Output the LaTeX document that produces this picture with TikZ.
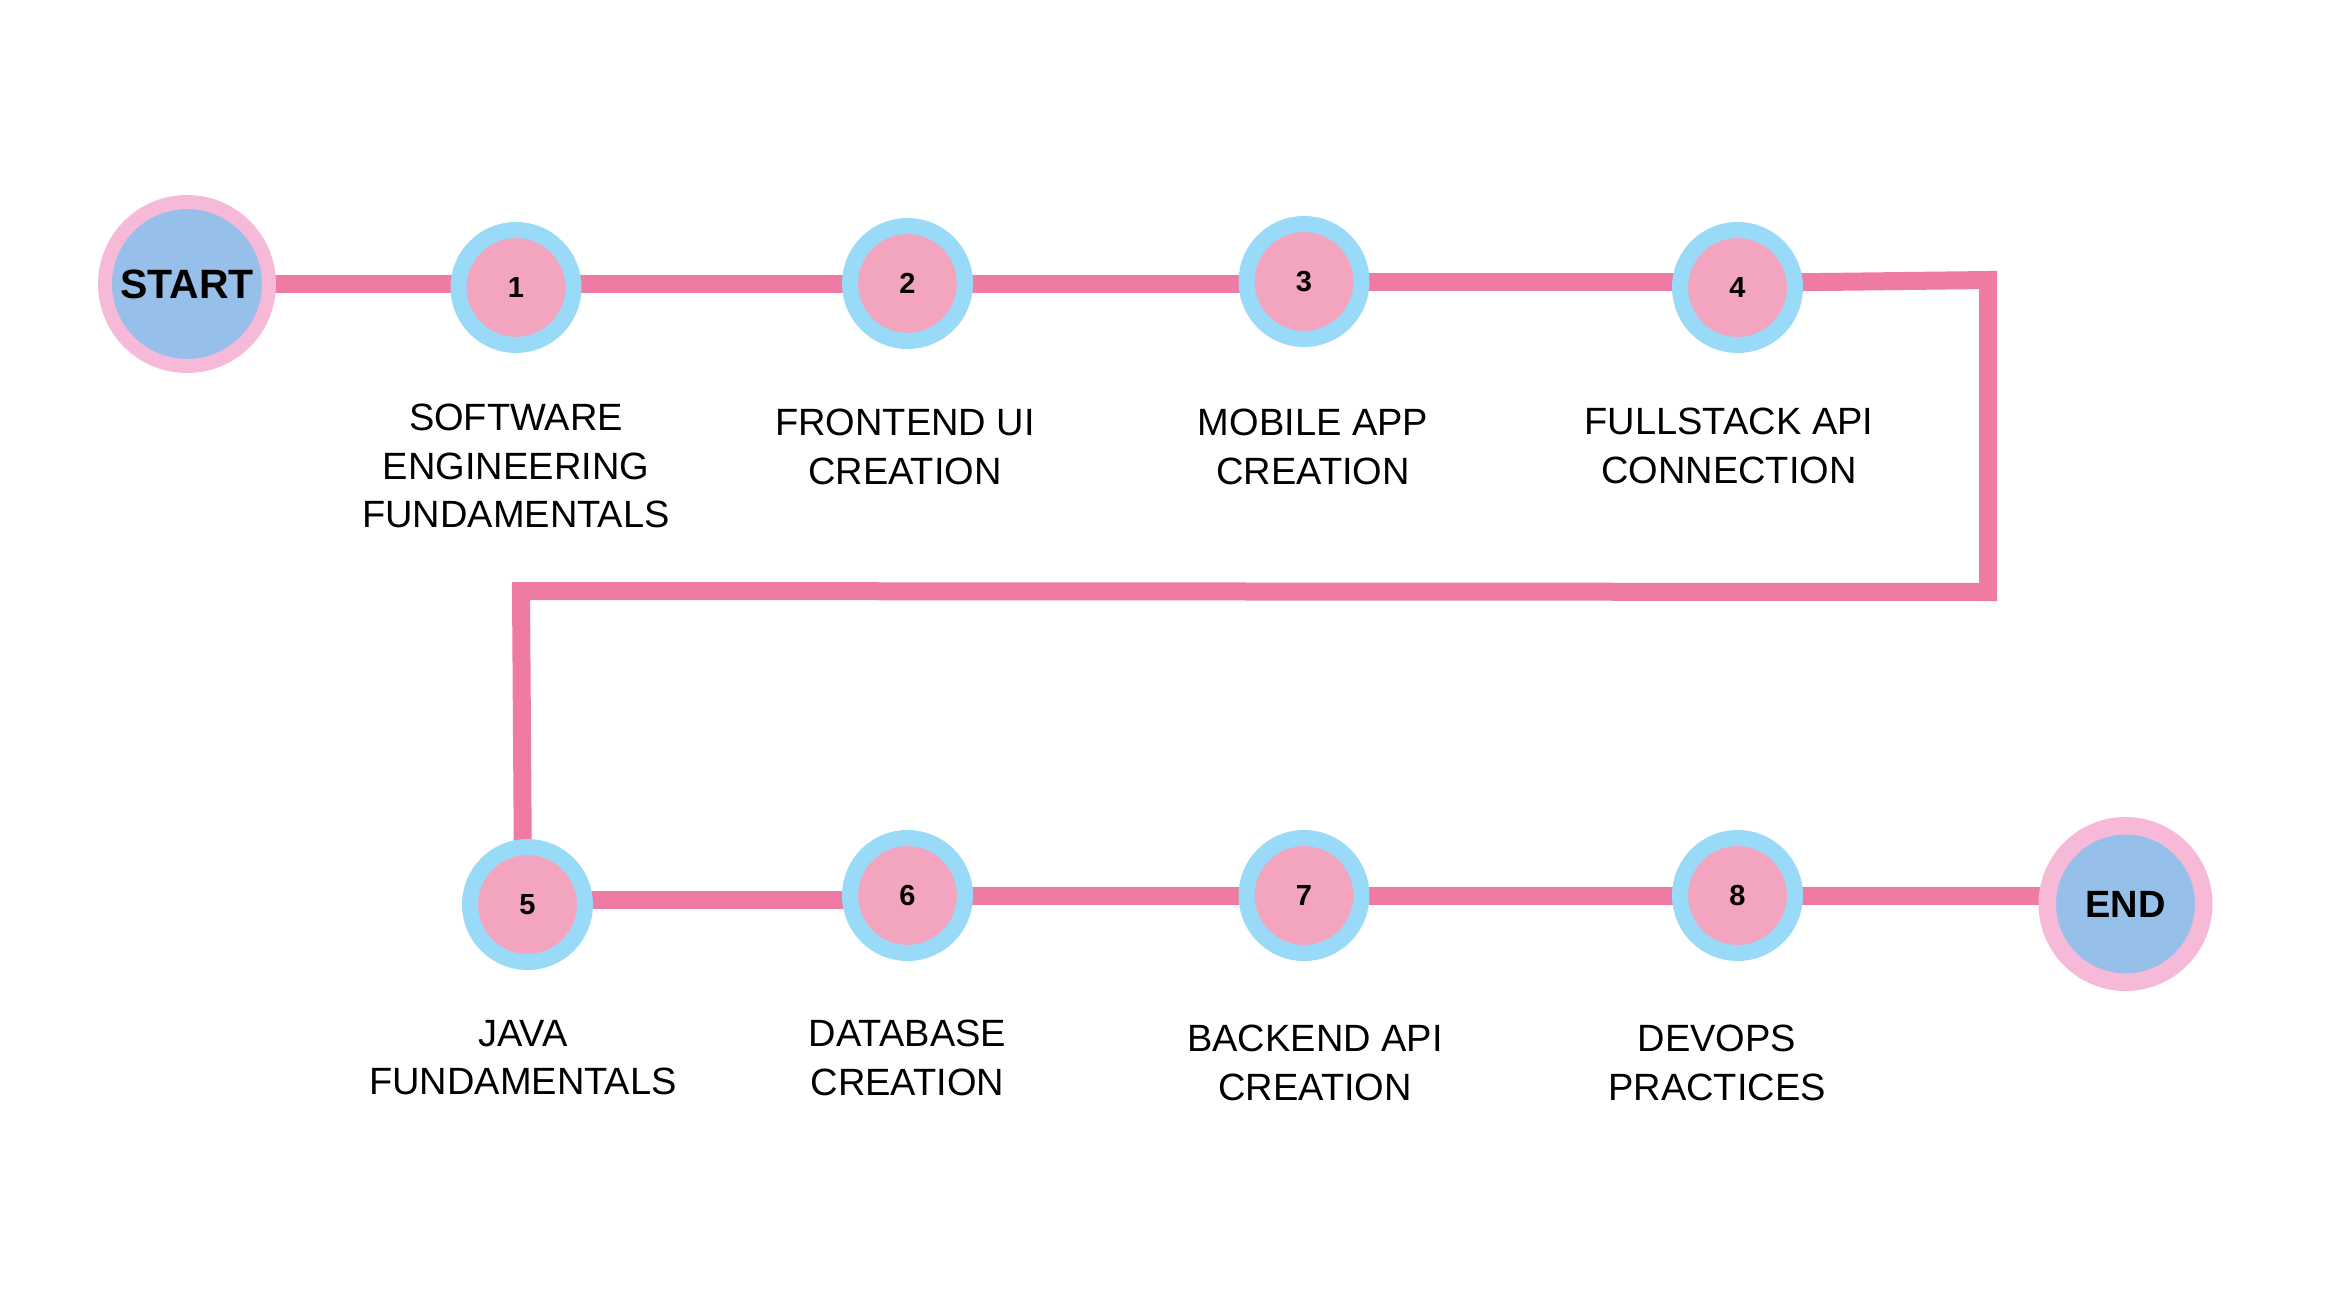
\documentclass[tikz,border=0pt]{standalone}
\usepackage{fontspec}
\setmainfont{Liberation Sans}
\usetikzlibrary{backgrounds}
\definecolor{pathpink}{HTML}{EF7AA4}
\definecolor{ringblue}{HTML}{99DAF8}
\definecolor{innerpink}{HTML}{F3A5C0}
\definecolor{endring}{HTML}{F6BAD8}
\definecolor{endblue}{HTML}{96C0EA}
\tikzset{
  stepnode/.style={circle, draw=ringblue, line width=16pt, fill=innerpink,
    minimum size=115pt, inner sep=0pt, outer sep=0pt,
    font=\fontsize{29}{30}\selectfont\bfseries},
  termnode/.style={circle, draw=endring, fill=endblue, inner sep=0pt, outer sep=0pt,
    font=\bfseries},
  steplabel/.style={anchor=north, align=center, inner sep=0pt,
    font=\fontsize{38}{48.5}\selectfont},
  pathline/.style={draw=pathpink, line width=18pt, line join=miter}
}
\begin{document}
\begin{tikzpicture}[x=1pt,y=-1pt]
\useasboundingbox (0,0) rectangle (2348,1298);

\node[termnode, line width=14pt, minimum size=164pt,
      font=\fontsize{41}{44}\selectfont\bfseries] (start) at (187,284) {START};
\node[stepnode] (n1) at (516,287.5) {1};
\node[stepnode] (n2) at (907.5,283.5) {2};
\node[stepnode] (n3) at (1304,281.5) {3};
\node[stepnode] (n4) at (1737.5,287.5) {4};
\node[stepnode] (n5) at (527.5,904.5) {5};
\node[stepnode] (n6) at (907.5,895.5) {6};
\node[stepnode] (n7) at (1304,895.5) {7};
\node[stepnode] (n8) at (1737.5,895.5) {8};
\node[termnode, line width=17.5pt, minimum size=156.5pt,
      font=\fontsize{38}{40}\selectfont\bfseries] (end) at (2125.5,904) {END};

% rows on which the straight segments run
\coordinate (ra) at (0,284);
\coordinate (rb) at (0,282);
\coordinate (rc) at (0,283);
\coordinate (rd) at (0,900);
\coordinate (re) at (0,896);
% corners of the turn
\coordinate (c1) at (1988,280);
\coordinate (c2) at (1988,592);
\coordinate (c3) at (521,591);
\coordinate (c4) at (523,880);

\begin{scope}[on background layer]
\draw[pathline] (start |- ra) -- (n1 |- ra);
\draw[pathline] (n1 |- ra) -- (n2 |- ra);
\draw[pathline] (n2 |- ra) -- (n3 |- ra);
\draw[pathline] (n3 |- rb) -- (n4 |- rb);
\draw[pathline] (n4 |- rc) -- (c1) -- (c2) -- (c3) -- (c4);
\draw[pathline] (n5 |- rd) -- (n6 |- rd);
\draw[pathline] (n6 |- re) -- (n7 |- re);
\draw[pathline] (n7 |- re) -- (n8 |- re);
\draw[pathline] (n8 |- re) -- (end |- re);
\end{scope}

\node[steplabel] (l1) at (516,404) {SOFTWARE\\ENGINEERING\\FUNDAMENTALS};
\node[steplabel] (l2) at (905,409) {FRONTEND UI\\CREATION};
\node[steplabel] (l3) at (1313,409) {MOBILE APP\\CREATION};
\node[steplabel] (l4) at (1729,408) {FULLSTACK API\\CONNECTION};
\node[steplabel] (l5) at (523,1020) {JAVA\\FUNDAMENTALS};
\node[steplabel] (l6) at (907.5,1020) {DATABASE\\CREATION};
\node[steplabel] (l7) at (1315,1025) {BACKEND API\\CREATION};
\node[steplabel] (l8) at (1717,1025) {DEVOPS\\PRACTICES};
\end{tikzpicture}
\end{document}
